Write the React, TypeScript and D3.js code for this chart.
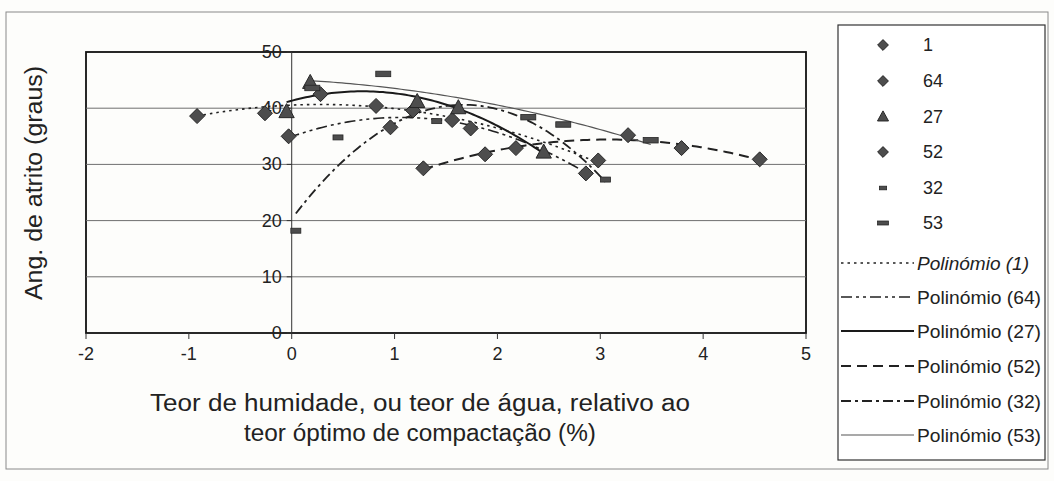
import React from 'react';
import * as d3 from 'd3';

// moisture relative to optimum (%) vs friction angle (degrees)
const s1X = [-0.92, -0.26, 0.28, 0.82, 1.74, 2.98];
const s1Y = [38.6, 39.1, 42.5, 40.4, 36.4, 30.7];
const s64X = [-0.03, 0.96, 1.18, 1.56, 2.86];
const s64Y = [35.0, 36.6, 39.6, 37.9, 28.4];
const s27X = [-0.05, 0.18, 1.22, 1.62, 2.45];
const s27Y = [39.3, 44.5, 41.1, 40.0, 32.1];
const s52X = [1.28, 1.88, 2.18, 3.27, 3.79, 4.55];
const s52Y = [29.3, 31.8, 32.9, 35.2, 32.9, 30.9];
const s32X = [0.04, 0.45, 1.41, 3.05];
const s32Y = [18.2, 34.8, 37.7, 27.3];
const s53X = [0.2, 0.89, 2.3, 2.64, 3.49];
const s53Y = [43.6, 46.1, 38.4, 37.1, 34.3];

const seriesNames = ['1', '64', '27', '52', '32', '53'];
const xTicks = [-2, -1, 0, 1, 2, 3, 4, 5];
const yTicks = [0, 10, 20, 30, 40, 50];

const W = 1054;
const H = 481;
const FONT = '"Liberation Sans", Arial, sans-serif';

type Marker = 'diamond' | 'triangle' | 'dashS' | 'dashL';

const seriesList = [
  { name: '1', xs: s1X, ys: s1Y, marker: 'diamond' as Marker, dash: '2.5,4', width: 1.6, color: '#222' },
  { name: '64', xs: s64X, ys: s64Y, marker: 'diamond' as Marker, dash: '11,4,3,4,3,4', width: 1.6, color: '#222' },
  { name: '27', xs: s27X, ys: s27Y, marker: 'triangle' as Marker, dash: null, width: 2, color: '#1a1a1a' },
  { name: '52', xs: s52X, ys: s52Y, marker: 'diamond' as Marker, dash: '10,6', width: 2, color: '#222' },
  { name: '32', xs: s32X, ys: s32Y, marker: 'dashS' as Marker, dash: '10,4,3,4', width: 1.8, color: '#222' },
  { name: '53', xs: s53X, ys: s53Y, marker: 'dashL' as Marker, dash: null, width: 1.2, color: '#555' }
];

// 2nd order least squares, like Excel's "Polinómio" trendline
function polyfit2(xs: number[], ys: number[]) {
  const S = [0, 0, 0, 0, 0];
  const T = [0, 0, 0];
  xs.forEach((x, i) => {
    for (let k = 0; k < 5; k++) S[k] += Math.pow(x, k);
    for (let k = 0; k < 3; k++) T[k] += ys[i] * Math.pow(x, k);
  });
  const A = [
    [S[0], S[1], S[2], T[0]],
    [S[1], S[2], S[3], T[1]],
    [S[2], S[3], S[4], T[2]]
  ];
  for (let c = 0; c < 3; c++) {
    for (let r = c + 1; r < 3; r++) {
      const f = A[r][c] / A[c][c];
      for (let k = c; k < 4; k++) A[r][k] -= f * A[c][k];
    }
  }
  const b = [0, 0, 0];
  for (let r = 2; r >= 0; r--) {
    let s = A[r][3];
    for (let k = r + 1; k < 3; k++) s -= A[r][k] * b[k];
    b[r] = s / A[r][r];
  }
  return (x: number) => b[0] + b[1] * x + b[2] * x * x;
}

const MarkerShape: React.FC<{ type: Marker; x: number; y: number; s?: number }> = ({ type, x, y, s = 1 }) => {
  const fill = '#4d4d4d';
  const stroke = '#262626';
  if (type === 'diamond') {
    const r = 7.5 * s;
    return <polygon points={`${x},${y - r} ${x + r},${y} ${x},${y + r} ${x - r},${y}`} fill={fill} stroke={stroke} strokeWidth={1} />;
  }
  if (type === 'triangle') {
    const r = 8.5 * s;
    return <polygon points={`${x},${y - r} ${x + r * 0.9},${y + r * 0.65} ${x - r * 0.9},${y + r * 0.65}`} fill={fill} stroke={stroke} strokeWidth={1} />;
  }
  const w = (type === 'dashS' ? 10 : 15) * s;
  const h = (type === 'dashS' ? 5 : 5.5) * s;
  return <rect x={x - w / 2} y={y - h / 2} width={w} height={h} fill={fill} stroke={stroke} strokeWidth={0.8} />;
};

export default function App() {
  const left = 86;
  const right = 806;
  const top = 52;
  const bottom = 333;

  const x = d3.scaleLinear().domain([-2, 5]).range([left, right]);
  const y = d3.scaleLinear().domain([0, 50]).range([bottom, top]);

  const line = d3
    .line<[number, number]>()
    .x(d => x(d[0]))
    .y(d => y(d[1]))
    .curve(d3.curveLinear);

  const fits = seriesList.map(s => {
    const f = polyfit2(s.xs, s.ys);
    const [lo, hi] = d3.extent(s.xs) as [number, number];
    const pts: [number, number][] = d3.range(0, 81).map(i => {
      const xv = lo + ((hi - lo) * i) / 80;
      return [xv, f(xv)];
    });
    return { ...s, d: line(pts) || '' };
  });

  const lgX = 838;
  const lgY = 25;
  const markerRows = [45, 81, 117, 152, 188, 223];
  const lineRows = [263, 297, 331, 366, 401, 435];

  return (
    <svg
      width={W}
      height={H}
      viewBox={`0 0 ${W} ${H}`}
      style={{ position: 'absolute', left: 0, top: 0, background: '#fdfdfb' }}
      fontFamily={FONT}
    >
      {/* outer chart frame */}
      <rect x={6} y={12} width={1042} height={457} fill="none" stroke="#8a8a8a" strokeWidth={1} />

      {/* plot area */}
      <rect x={left} y={top} width={right - left} height={bottom - top} fill="none" stroke="#111" strokeWidth={1.8} />
      {yTicks.filter(t => t > 0 && t < 50).map(t => (
        <line key={`g${t}`} x1={left} x2={right} y1={y(t)} y2={y(t)} stroke="#6f6f6f" strokeWidth={1} />
      ))}

      {/* y axis at x = 0 */}
      <line x1={x(0)} x2={x(0)} y1={top} y2={bottom} stroke="#333" strokeWidth={1} />
      {yTicks.map(t => (
        <g key={`y${t}`}>
          <line x1={x(0) - 5} x2={x(0)} y1={y(t)} y2={y(t)} stroke="#333" />
          <text x={x(0) - 10} y={y(t)} textAnchor="end" dominantBaseline="central" fontSize={18} fill="#222">
            {t}
          </text>
        </g>
      ))}

      {/* x axis ticks */}
      {xTicks.map(t => (
        <g key={`x${t}`}>
          <line x1={x(t)} x2={x(t)} y1={bottom} y2={bottom + 6} stroke="#333" />
          <text x={x(t)} y={bottom + 27} textAnchor="middle" fontSize={18} fill="#222">
            {t}
          </text>
        </g>
      ))}

      {/* trendlines */}
      {fits.map(s => (
        <path
          key={`f${s.name}`}
          d={s.d}
          fill="none"
          stroke={s.color}
          strokeWidth={s.width}
          strokeDasharray={s.dash || undefined}
        />
      ))}

      {/* data markers */}
      {seriesList.map(s =>
        s.xs.map((xv, i) => (
          <MarkerShape key={`m${s.name}-${i}`} type={s.marker} x={x(xv)} y={y(s.ys[i])} />
        ))
      )}

      {/* axis titles */}
      <text
        transform="translate(42, 183) rotate(-90)"
        textAnchor="middle"
        fontSize={23}
        textLength={234}
        lengthAdjust="spacingAndGlyphs"
        fill="#222"
      >
        Ang. de atrito (graus)
      </text>
      <text x={420} y={411} textAnchor="middle" fontSize={23} textLength={540} lengthAdjust="spacingAndGlyphs" fill="#222">
        Teor de humidade, ou teor de água,  relativo ao
      </text>
      <text x={420} y={441} textAnchor="middle" fontSize={23} textLength={352} lengthAdjust="spacingAndGlyphs" fill="#222">
        teor óptimo de compactação (%)
      </text>

      {/* legend */}
      <rect x={lgX} y={lgY} width={207} height={435} fill="#fff" stroke="#333" strokeWidth={1.2} />
      {seriesList.map((s, i) => (
        <g key={`lm${s.name}`}>
          <MarkerShape type={s.marker} x={883} y={markerRows[i]} s={0.72} />
          <text x={923} y={markerRows[i]} dominantBaseline="central" fontSize={18} fill="#222">
            {seriesNames[i]}
          </text>
        </g>
      ))}
      {seriesList.map((s, i) => (
        <g key={`ll${s.name}`}>
          <line
            x1={841}
            x2={914}
            y1={lineRows[i]}
            y2={lineRows[i]}
            stroke={s.color}
            strokeWidth={s.width}
            strokeDasharray={s.dash || undefined}
          />
          <text
            x={917}
            y={lineRows[i]}
            dominantBaseline="central"
            fontSize={19}
            fontStyle={s.name === '1' ? 'italic' : 'normal'}
            textLength={s.name === '1' ? 112 : 124}
            lengthAdjust="spacingAndGlyphs"
            fill="#222"
          >
            {`Polinómio (${s.name})`}
          </text>
        </g>
      ))}
    </svg>
  );
}
